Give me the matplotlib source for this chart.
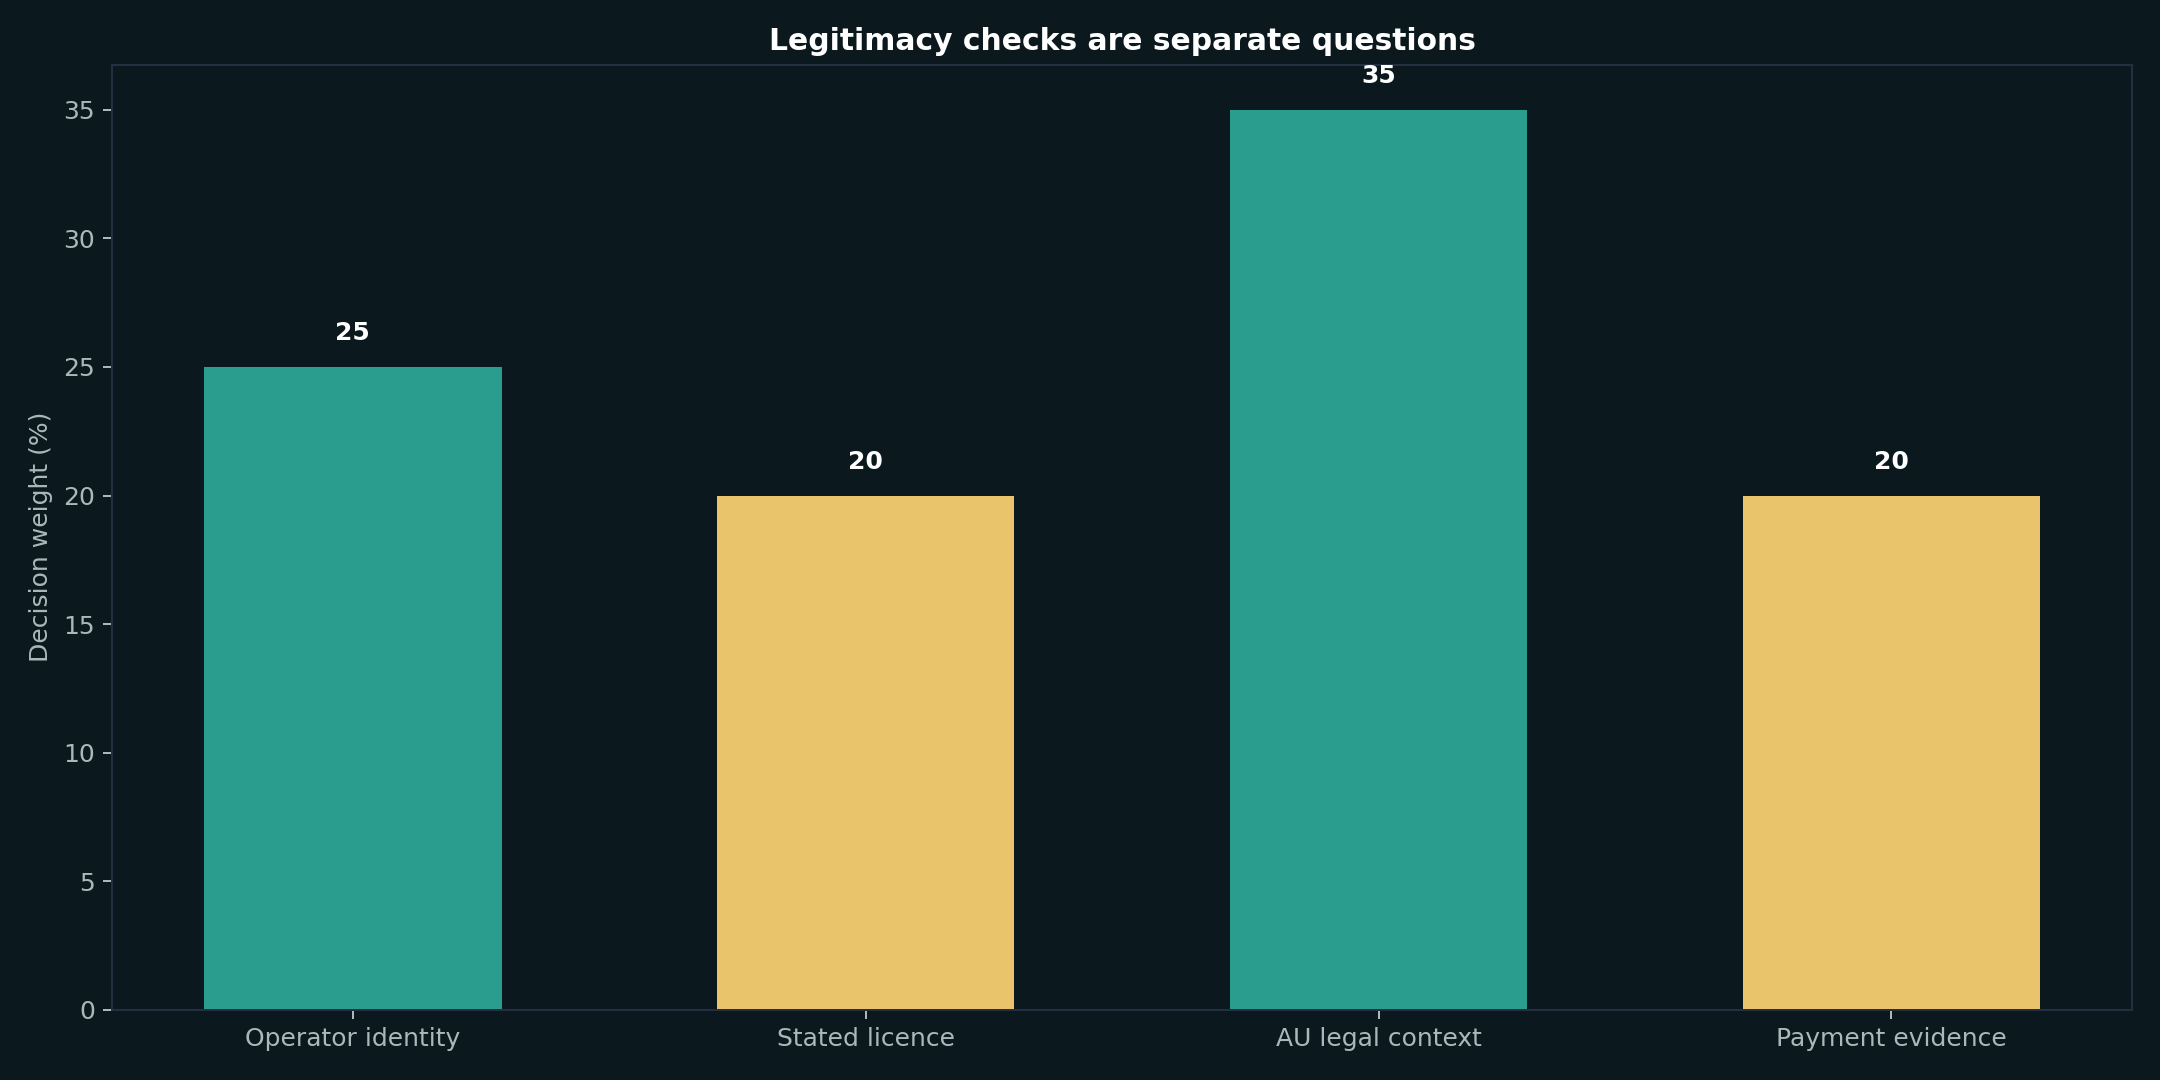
import numpy as np
from matplotlib import pyplot as plt

# data
categories = [ 'Operator identity', 'Stated licence', 'AU legal context', 'Payment evidence' ]
weights = [ 25, 20, 35, 20 ]
barColors = [ '#2a9d8f', '#e9c46a', '#2a9d8f', '#e9c46a' ]

bg = '#0b191e'
spineColor = '#262e42'
tickColor = '#a9b9b9'

fig, ax = plt.subplots( figsize=( 12, 6 ), dpi=180 )
fig.patch.set_facecolor( bg )
ax.set_facecolor( bg )

x = np.arange( len( categories ) )
ax.bar( x, weights, width=0.58, color=barColors )
for xi, v in zip( x, weights ):
    ax.text( xi, v + 0.85, f"{v}", ha='center', va='bottom', color='white',
             fontweight='bold', fontsize=10 )

ax.set_xticks( x )
ax.set_xticklabels( categories )
ax.set_ylabel( 'Decision weight (%)', color=tickColor, fontsize=10 )
ax.set_title( 'Legitimacy checks are separate questions', color='white',
              fontweight='bold', fontsize=11.9 )
ax.tick_params( colors=tickColor, labelsize=10 )
for s in ax.spines.values():
    s.set_color( spineColor )

fig.subplots_adjust( left=0.052, right=0.987, top=0.94, bottom=0.065 )
plt.savefig( 'out.png', dpi=180, facecolor=bg )
